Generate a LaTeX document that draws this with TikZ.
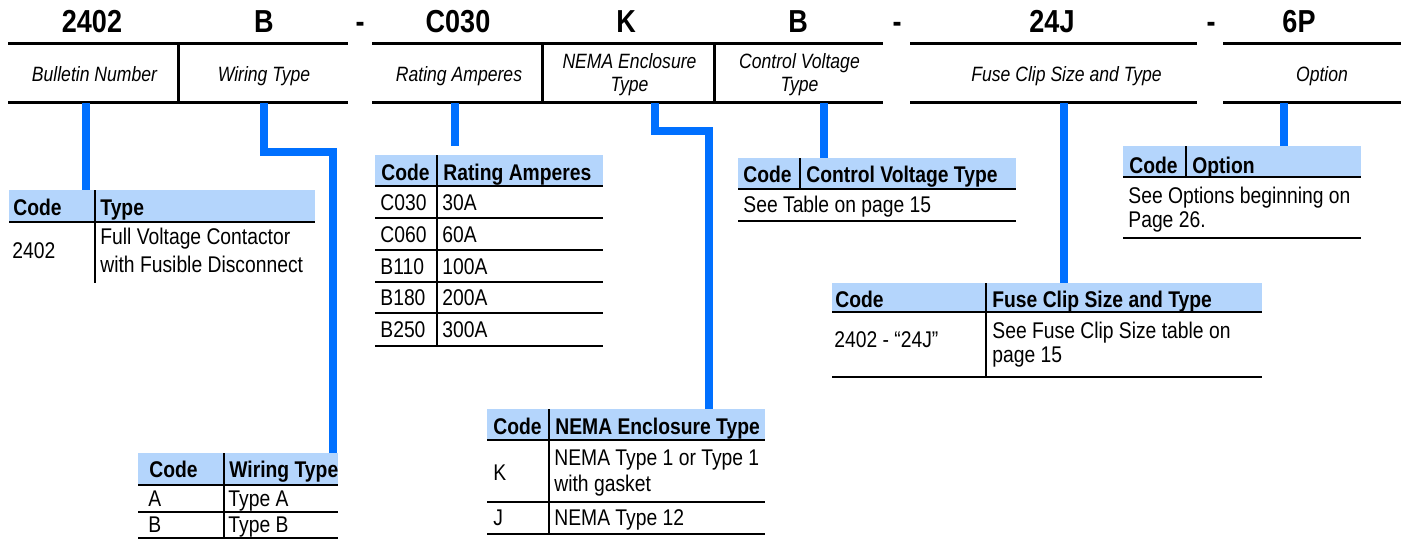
\documentclass[tikz,border=0pt]{standalone}
\usepackage{fontspec}
\setmainfont{Liberation Sans}[FakeStretch=0.85]
\usepackage{tikz}
\definecolor{hdblue}{RGB}{180,213,252}
\definecolor{lnblue}{RGB}{0,112,255}

\begin{document}
\begin{tikzpicture}[x=0.5pt,y=-0.5pt,
    code/.style={font=\fontsize{15.9}{18}\selectfont\bfseries, anchor=base, inner sep=0},
    lbl/.style={font=\fontsize{10.35}{11.5}\selectfont\itshape, anchor=base, inner sep=0, align=center},
    hdr/.style={font=\fontsize{11.35}{12}\selectfont\bfseries, anchor=base west, inner sep=0},
    cell/.style={font=\fontsize{11.35}{12}\selectfont, anchor=base west, inner sep=0, align=left},
    band/.style={fill=hdblue, inner sep=0, anchor=north west},
    bar/.style={line width=1.5pt},
    tab/.style={line width=1.3pt},
    link/.style={draw=lnblue, line width=4pt, line join=miter}]
    \useasboundingbox (0,0) rectangle (1401,548);

    % catalog number strip
    \draw (92,32) node[code] (nBul) {2402};
    \draw (264,32) node[code] (nWir) {B};
    \draw (360,32) node[code] (dA) {-};
    \draw (458,32) node[code] (nRat) {C030};
    \draw (626,32) node[code] (nEnc) {K};
    \draw (798,32) node[code] (nVol) {B};
    \draw (897,32) node[code] (dB) {-};
    \draw (1052,32) node[code] (nFus) {24J};
    \draw (1211,32) node[code] (dC) {-};
    \draw (1299,32) node[code] (nOpt) {6P};

    \draw[bar] (8,43.5) -- (348,43.5) (8,102) -- (348,102) (178,43.5) -- (178,102);
    \draw[bar] (372,43.5) -- (883,43.5) (372,102) -- (883,102);
    \draw[bar] (542.5,43.5) -- (542.5,102) (714,43.5) -- (714,102);
    \draw[bar] (910,43.5) -- (1197,43.5) (910,102) -- (1197,102);
    \draw[bar] (1223,43.5) -- (1401,43.5) (1223,102) -- (1401,102);

    % multi-line nodes sit on their last baseline
    \draw (94.5,81) node[lbl] (lBul) {Bulletin Number};
    \draw (264,81) node[lbl] (lWir) {Wiring Type};
    \draw (459,81) node[lbl] (lRat) {Rating Amperes};
    \draw (629.5,91.5) node[lbl] (lEnc) {NEMA Enclosure\\Type};
    \draw (799.5,91.5) node[lbl] (lVol) {Control Voltage\\Type};
    \draw (1066.5,81) node[lbl] (lFus) {Fuse Clip Size and Type};
    \draw (1322,81) node[lbl] (lOpt) {Option};

    % header bands
    \node[band, minimum width=153pt, minimum height=16pt] (hBul) at (9,190) {};
    \node[band, minimum width=100pt, minimum height=16pt] (hWir) at (138,453) {};
    \node[band, minimum width=114pt, minimum height=15.5pt] (hRat) at (375,155) {};
    \node[band, minimum width=139pt, minimum height=15.5pt] (hEnc) at (487,409) {};
    \node[band, minimum width=139pt, minimum height=15.5pt] (hVol) at (738,158) {};
    \node[band, minimum width=215pt, minimum height=14.5pt] (hFus) at (832,283) {};
    \node[band, minimum width=119pt, minimum height=15.5pt] (hOpt) at (1123,146) {};

    % blue leaders
    \coordinate (sBul) at (86,103);
    \coordinate (sWir) at (264,103);
    \coordinate (kWir) at (332.5,152);
    \coordinate (sRat) at (454.5,103);
    \coordinate (eRat) at (454.5,146);
    \coordinate (sEnc) at (654.5,103);
    \coordinate (kEnc) at (708.5,131);
    \coordinate (sVol) at (824,103);
    \coordinate (sFus) at (1064,103);
    \coordinate (sOpt) at (1284,103);
    \draw[link] (sBul) -- (sBul |- hBul.north);
    \draw[link] (sWir) |- (kWir) -- (kWir |- hWir.north);
    \draw[link] (sRat) -- (eRat);
    \draw[link] (sEnc) |- (kEnc) -- (kEnc |- hEnc.north);
    \draw[link] (sVol) -- (sVol |- hVol.north);
    \draw[link] (sFus) -- (sFus |- hFus.north);
    \draw[link] (sOpt) -- (sOpt |- hOpt.north);

    % bulletin number
    \draw[tab] (9,222) -- (315,222) (95,190) -- (95,283);
    \draw (13,215) node[hdr] (tBulC) {Code};
    \draw (100,215) node[hdr] (tBulT) {Type};
    \draw (12,258) node[cell] (cBul) {2402};
    \draw (100,272) node[cell, font=\fontsize{11.35}{14}\selectfont] (vBul) {Full Voltage Contactor\\with Fusible Disconnect};

    % wiring type
    \draw[tab] (138,485) -- (338,485) (138,512) -- (338,512) (138,538) -- (338,538) (224,453) -- (224,538);
    \draw (149,477) node[hdr] (tWirC) {Code};
    \draw (229,477) node[hdr] (tWirT) {Wiring Type};
    \draw (148,506) node[cell] (cWirA) {A};
    \draw (228,506) node[cell] (vWirA) {Type A};
    \draw (148,532) node[cell] (cWirB) {B};
    \draw (228,532) node[cell] (vWirB) {Type B};

    % rating amperes
    \draw[tab] (375,186) -- (603,186) (375,218) -- (603,218) (375,250) -- (603,250);
    \draw[tab] (375,282) -- (603,282) (375,313) -- (603,313) (375,346) -- (603,346) (437,155) -- (437,346);
    \draw (381,180) node[hdr] (tRatC) {Code};
    \draw (443,180) node[hdr] (tRatT) {Rating Amperes};
    \draw (380,210) node[cell] (cRat1) {C030};
    \draw (442,210) node[cell] (vRat1) {30A};
    \draw (380,242) node[cell] (cRat2) {C060};
    \draw (442,242) node[cell] (vRat2) {60A};
    \draw (380,274) node[cell] (cRat3) {B110};
    \draw (442,274) node[cell] (vRat3) {100A};
    \draw (380,305.5) node[cell] (cRat4) {B180};
    \draw (442,305.5) node[cell] (vRat4) {200A};
    \draw (380,337.5) node[cell] (cRat5) {B250};
    \draw (442,337.5) node[cell] (vRat5) {300A};

    % enclosure type
    \draw[tab] (487,440) -- (765,440) (487,502) -- (765,502) (487,534) -- (765,534) (549,409) -- (549,534);
    \draw (493,434) node[hdr] (tEncC) {Code};
    \draw (555,434) node[hdr] (tEncT) {NEMA Enclosure Type};
    \draw (493,480) node[cell] (cEncK) {K};
    \draw (554,491) node[cell, font=\fontsize{11.35}{13}\selectfont] (vEncK) {NEMA Type 1 or Type 1\\with gasket};
    \draw (493,525) node[cell] (cEncJ) {J};
    \draw (554,525) node[cell] (vEncJ) {NEMA Type 12};

    % control voltage
    \draw[tab] (738,189) -- (1016,189) (738,221) -- (1016,221) (800,158) -- (800,189);
    \draw (743,182.5) node[hdr] (tVolC) {Code};
    \draw (806,182.5) node[hdr] (tVolT) {Control Voltage Type};
    \draw (743,212) node[cell] (vVol) {See Table on page 15};

    % fuse clip
    \draw[tab] (832,312) -- (1262,312) (832,377) -- (1262,377) (986,283) -- (986,377);
    \draw (835,307) node[hdr] (tFusC) {Code};
    \draw (992,307) node[hdr] (tFusT) {Fuse Clip Size and Type};
    \draw (834,347) node[cell] (cFus) {2402 - “24J”};
    \draw (992,362) node[cell] (vFus) {See Fuse Clip Size table on\\page 15};

    % option
    \draw[tab] (1123,177) -- (1361,177) (1123,238) -- (1361,238) (1186,146) -- (1186,177);
    \draw (1129,173) node[hdr] (tOptC) {Code};
    \draw (1192,173) node[hdr] (tOptT) {Option};
    \draw (1128,227) node[cell] (vOpt) {See Options beginning on\\Page 26.};
\end{tikzpicture}
\end{document}
